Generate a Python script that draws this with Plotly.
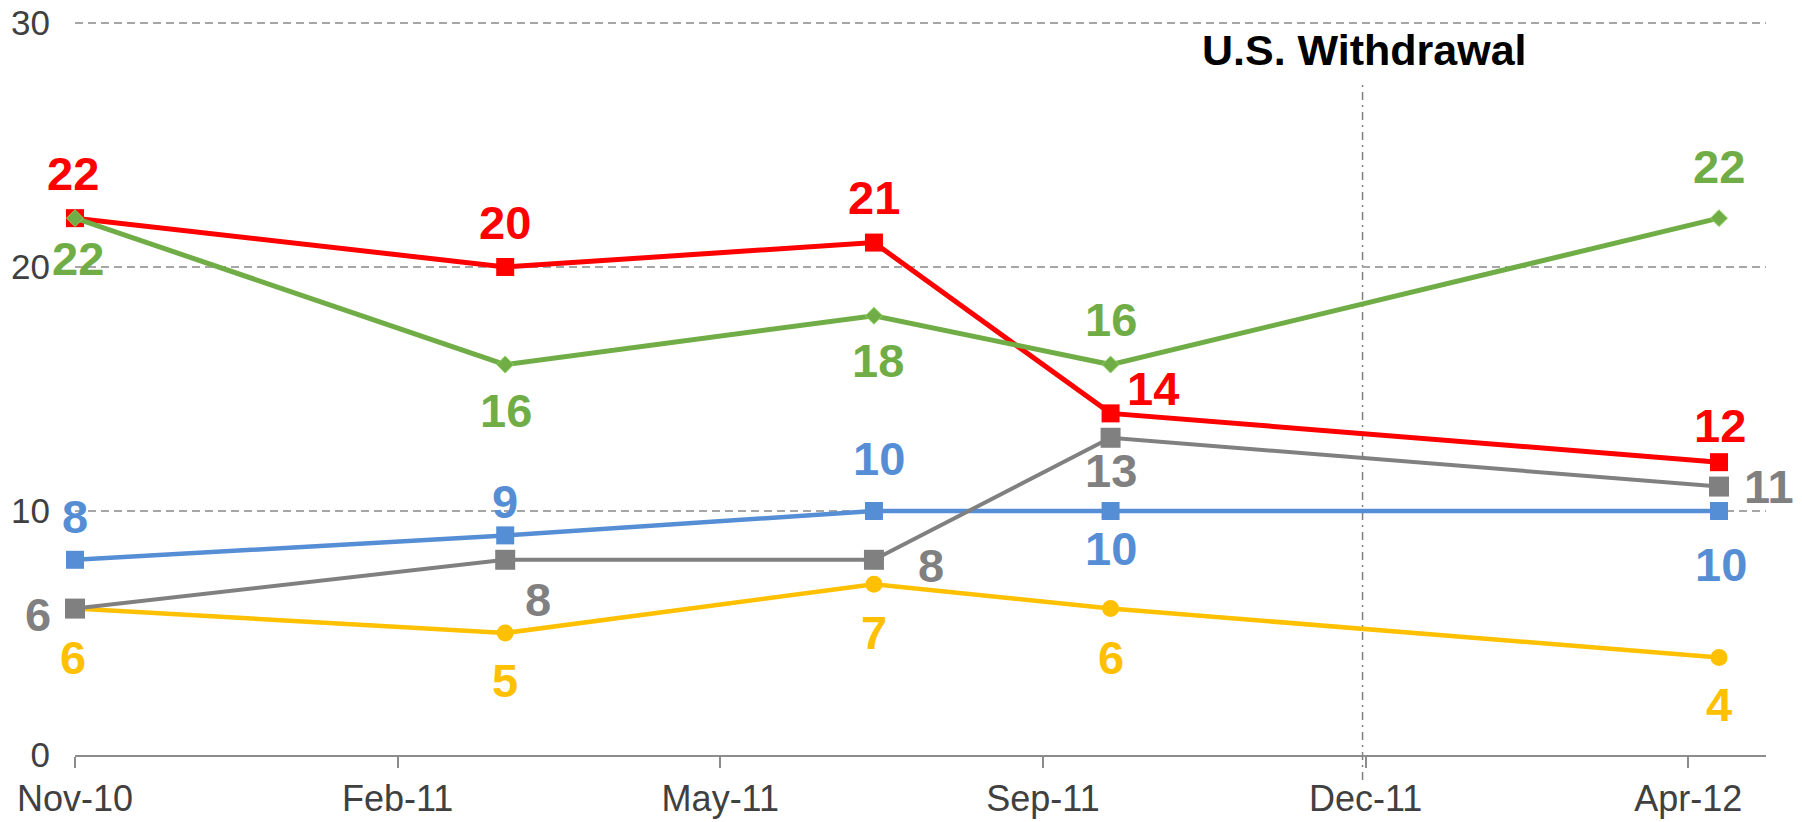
import plotly.graph_objects as go

# ---- data ----
dates = ["2010-11-01", "2011-03-21", "2011-07-19", "2011-10-04", "2012-04-19"]
red_vals = [22, 20, 21, 14, 12]
green_vals = [22, 16, 18, 16, 22]
blue_vals = [8, 9, 10, 10, 10]
gray_vals = [6, 8, 8, 13, 11]
yellow_vals = [6, 5, 7, 6, 4]

tick_dates = ["2010-11-01", "2011-02-14", "2011-05-30", "2011-09-12", "2011-12-26", "2012-04-09"]
tick_labels = ["Nov-10", "Feb-11", "May-11", "Sep-11", "Dec-11", "Apr-12"]
y_ticks = [0, 10, 20, 30]
withdrawal_date = "2011-12-25"
withdrawal_label = "U.S. Withdrawal"

# ---- styles ----
FONT = "Arial, 'Liberation Sans', sans-serif"
series = [
    # name, values, color, symbol, size, line width, label offsets (dx, dy) in px (screen, down positive)
    ("yellow", yellow_vals, "#FFC000", "circle", 17, 4.5,
     [(-2, 49), (0, 48), (0, 48), (0, 49), (0, 47)]),
    ("blue", blue_vals, "#558ED5", "square", 18, 4.5,
     [(0, -43), (0, -34), (5, -52), (0, 38), (2, 54)]),
    ("gray", gray_vals, "#808080", "square", 20, 4,
     [(-37, 6), (33, 40), (57, 6), (0, 33), (50, 0)]),
    ("red", red_vals, "#FF0000", "square", 18, 5,
     [(-2, -45), (0, -44), (0, -45), (42, -25), (1, -37)]),
    ("green", green_vals, "#70AD47", "diamond", 13, 5,
     [(3, 40), (1, 46), (4, 45), (0, -45), (0, -52)]),
]

fig = go.Figure()
annotations = []
for name, vals, color, sym, msize, lw, offs in series:
    mline = dict(width=1, color="#8FD45F") if sym == "diamond" else dict(width=0)
    fig.add_trace(go.Scatter(
        x=dates, y=vals, mode="lines+markers", name=name,
        line=dict(color=color, width=lw),
        marker=dict(symbol=sym, size=msize, color=color, line=mline),
        hoverinfo="skip", showlegend=False, cliponaxis=False,
    ))
    for d, v, (dx, dy) in zip(dates, vals, offs):
        annotations.append(dict(
            x=d, y=v, xref="x", yref="y", text=str(v), showarrow=False,
            xanchor="center", yanchor="middle", xshift=dx, yshift=-dy,
            font=dict(family=FONT, size=47, color=color, weight="bold"),
        ))

annotations.append(dict(
    x=withdrawal_date, y=0.960, xref="x", yref="paper", text=withdrawal_label,
    showarrow=False, xanchor="center", yanchor="middle", xshift=2,
    font=dict(family=FONT, size=43, color="#000000", weight="bold"),
))

fig.add_shape(type="line", xref="x", yref="paper",
              x0=withdrawal_date, x1=withdrawal_date, y0=-0.034, y1=0.919,
              line=dict(color="#7F7F7F", width=1.5, dash="8px,5px,2px,5px"), layer="below")

fig.update_layout(
    width=1802, height=822,
    margin=dict(l=75, r=36, t=21, b=67, pad=0, autoexpand=False),
    paper_bgcolor="white", plot_bgcolor="white",
    font=dict(family=FONT),
    annotations=annotations,
    xaxis=dict(
        type="date", range=["2010-11-01", "2012-05-04 07:00"],
        tickvals=tick_dates, ticktext=tick_labels,
        showline=True, linecolor="#8C8C8C", linewidth=1.5,
        ticks="outside", ticklen=11, tickcolor="#8C8C8C", tickwidth=1.5,
        showgrid=False, zeroline=False, automargin=False,
        tickfont=dict(family=FONT, size=36, color="#404040"),
    ),
    yaxis=dict(
        range=[0, 30.08], tickvals=y_ticks,
        showgrid=True, gridcolor="#A6A6A6", gridwidth=1.5, griddash="8px,5px",
        showline=False, zeroline=False, ticks="", automargin=False,
        ticklabelstandoff=24,
        tickfont=dict(family=FONT, size=35, color="#404040"),
    ),
)

fig.write_html("out.html", config={"displayModeBar": False},
               post_script="document.body.style.margin='0';document.body.style.overflow='hidden';")
